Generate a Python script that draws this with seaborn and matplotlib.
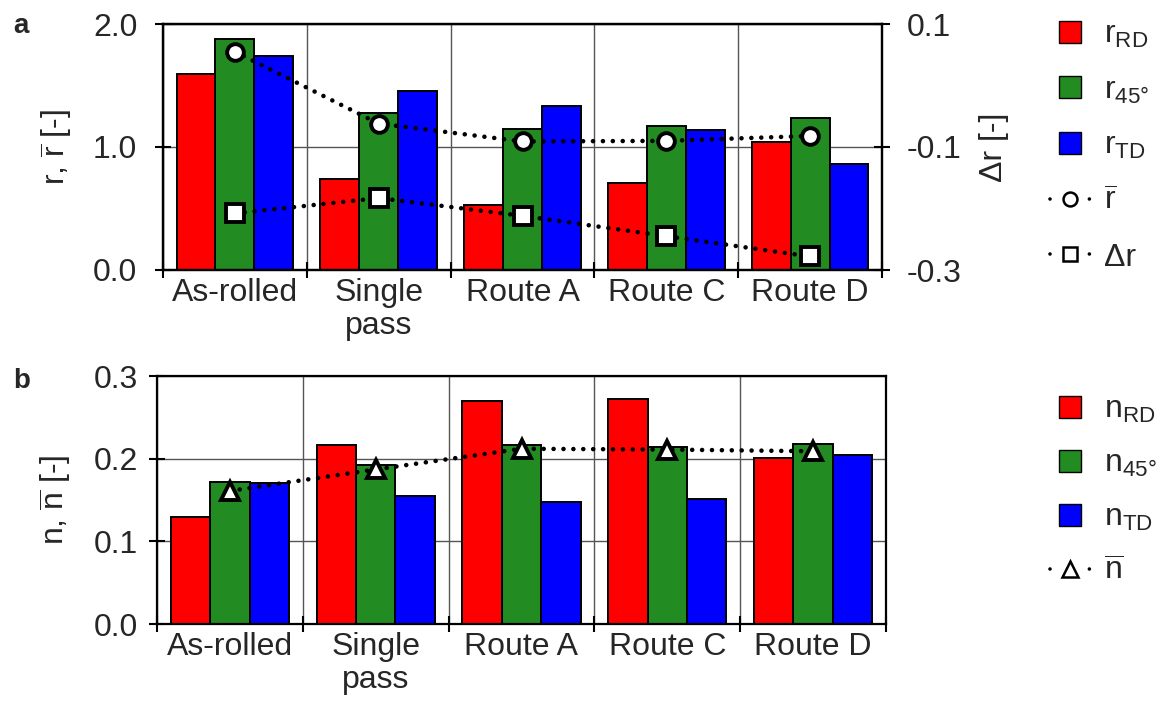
import numpy as np
import pandas as pd
import matplotlib
matplotlib.use("Agg")
import matplotlib.pyplot as plt
from matplotlib.lines import Line2D
import seaborn as sns

# Processing routes (x categories)
routes = ["As-rolled", "Single\npass", "Route A", "Route C", "Route D"]

# Lankford coefficients per direction
r_rd = [1.59, 0.74, 0.53, 0.71, 1.04]
r_45 = [1.875, 1.28, 1.145, 1.17, 1.235]
r_td = [1.74, 1.455, 1.335, 1.14, 0.86]
r_mean = [1.775, 1.19, 1.045, 1.05, 1.09]
delta_r = [-0.208, -0.183, -0.212, -0.245, -0.278]

# Strain-hardening exponents per direction
n_rd = [0.129, 0.216, 0.270, 0.272, 0.201]
n_45 = [0.172, 0.192, 0.217, 0.214, 0.218]
n_td = [0.171, 0.155, 0.147, 0.151, 0.204]
n_mean = [0.161, 0.187, 0.212, 0.211, 0.209]

directions = ["RD", "45", "TD"]
colors = ["#ff0000", "#228b22", "#0000ff"]

sns.set_style("ticks")
plt.rcParams["font.family"] = ["Liberation Sans", "DejaVu Sans"]
plt.rcParams["mathtext.fontset"] = "custom"
plt.rcParams["mathtext.rm"] = "Liberation Sans"
plt.rcParams["mathtext.it"] = "Liberation Sans"
plt.rcParams["mathtext.bf"] = "Liberation Sans:bold"
plt.rcParams["axes.unicode_minus"] = False

TXT = "#262626"
FS = 23


def long_form(rd, d45, td):
    return pd.DataFrame({
        "route": routes * 3,
        "dir": [d for d in directions for _ in routes],
        "value": list(rd) + list(d45) + list(td),
    })


def draw_bars(ax, df):
    sns.barplot(data=df, x="route", y="value", hue="dir", order=routes,
                hue_order=directions, palette=colors, saturation=1,
                width=0.81, edgecolor="black", linewidth=1.4,
                legend=False, ax=ax, zorder=2)


def dotted_series(ax, y, marker, ms):
    sns.lineplot(x=np.arange(len(routes)), y=y, ax=ax, sort=False,
                 color="black", linewidth=3.3,
                 linestyle=(0, (0.01, 2.15)), dash_capstyle="round",
                 marker=marker, markersize=ms, markerfacecolor="white",
                 markeredgecolor="black", markeredgewidth=2.8, zorder=6)


def style_axes(ax, ylim, yticks, ylabels, ypad):
    ax.set_xlim(-0.5, len(routes) - 0.5)
    ax.set_ylim(*ylim)
    ax.set_xticks(np.arange(-0.5, len(routes), 1))
    ax.set_xticklabels([])
    ax.set_xticks(np.arange(len(routes)), minor=True)
    ax.set_xticklabels(routes, minor=True, fontsize=FS, color=TXT,
                       linespacing=1.12)
    ax.tick_params(axis="x", which="major", direction="inout", length=12,
                   width=1.5, color="black")
    ax.tick_params(axis="x", which="minor", length=0, pad=6)
    ax.set_yticks(yticks)
    ax.set_yticklabels(ylabels, fontsize=FS, color=TXT)
    ax.tick_params(axis="y", direction="inout", length=11, width=1.5,
                   color="black", pad=ypad)
    ax.grid(True, which="major", color="#555555", linewidth=1.0)
    ax.set_axisbelow(True)
    for sp in ax.spines.values():
        sp.set_visible(True)
        sp.set_color("black")
        sp.set_linewidth(1.6)
    ax.set_xlabel("")


fig = plt.figure(figsize=(11.63, 7.10), dpi=100)
W, H = 1163, 710
ax_r = fig.add_axes([163 / W, 1 - 270 / H, 719 / W, 246 / H])
ax_n = fig.add_axes([157 / W, 1 - 624 / H, 729 / W, 248 / H])

# ---- panel a: r-values ----
draw_bars(ax_r, long_form(r_rd, r_45, r_td))
dotted_series(ax_r, r_mean, "o", 12)
style_axes(ax_r, (0, 2.0), [0.0, 1.0, 2.0], ["0.0", "1.0", "2.0"], 13)
ax_r.set_ylabel(r"r, $\overline{\mathrm{r}}$ [-]", fontsize=FS, color=TXT)
ax_r.yaxis.set_label_coords((74 - 163) / 719, 0.5)

ax_d = ax_r.twinx()
dotted_series(ax_d, delta_r, "s", 13)
ax_d.set_ylim(-0.3, 0.1)
ax_d.set_yticks([0.1, -0.1, -0.3])
ax_d.set_yticklabels(["0.1", "-0.1", "-0.3"], fontsize=FS, color=TXT)
ax_d.tick_params(axis="y", direction="inout", length=11, width=1.5,
                 color="black", pad=12)
ax_d.set_ylabel("Δr [-]", fontsize=FS, color=TXT)
ax_d.yaxis.set_label_coords((979 - 163) / 719, 0.5)
ax_d.set_xlim(-0.5, len(routes) - 0.5)
for sp in ax_d.spines.values():
    sp.set_color("black")
    sp.set_linewidth(1.6)

# ---- panel b: n-values ----
draw_bars(ax_n, long_form(n_rd, n_45, n_td))
dotted_series(ax_n, n_mean, "^", 13)
style_axes(ax_n, (0, 0.3), [0.0, 0.1, 0.2, 0.3],
           ["0.0", "0.1", "0.2", "0.3"], 8)
ax_n.set_ylabel(r"n, $\overline{\mathrm{n}}$ [-]", fontsize=FS, color=TXT)
ax_n.yaxis.set_label_coords((73 - 157) / 729, 0.5)

# ---- legends ----
def box(c):
    return Line2D([], [], linestyle="none", marker="s", markersize=16,
                  markerfacecolor=c, markeredgecolor="black",
                  markeredgewidth=1.0)


def dotted(m, ms):
    # one dot on each side of the marker
    return Line2D([], [], color="black", linewidth=2.6,
                  linestyle=(0, (0.001, 10.9)), dash_capstyle="round",
                  marker=m, markersize=ms, markerfacecolor="white",
                  markeredgecolor="black", markeredgewidth=1.8)


leg_kw = dict(frameon=False, fontsize=FS, handlelength=1.25,
              handletextpad=0.45, borderpad=0, borderaxespad=0,
              numpoints=1, labelcolor=TXT, loc="upper left")

fig.legend([box(colors[0]), box(colors[1]), box(colors[2]),
            dotted("o", 10), dotted("s", 10)],
           [r"r$_{\mathrm{RD}}$", r"r$_{\mathrm{45°}}$", r"r$_{\mathrm{TD}}$",
            r"$\overline{\mathrm{r}}$", "Δr"],
           bbox_to_anchor=(1050 / W, 1 - 20 / H), labelspacing=0.8,
           **leg_kw)

fig.legend([box(colors[0]), box(colors[1]), box(colors[2]),
            dotted("^", 11)],
           [r"n$_{\mathrm{RD}}$", r"n$_{\mathrm{45°}}$", r"n$_{\mathrm{TD}}$",
            r"$\overline{\mathrm{n}}$"],
           bbox_to_anchor=(1050 / W, 1 - 395 / H), labelspacing=0.75,
           **leg_kw)

# panel letters
fig.text(13 / W, 1 - 33 / H, "a", fontsize=20, fontweight="bold", color=TXT)
fig.text(13 / W, 1 - 388 / H, "b", fontsize=20, fontweight="bold", color=TXT)

fig.savefig("out.png", dpi=100)
